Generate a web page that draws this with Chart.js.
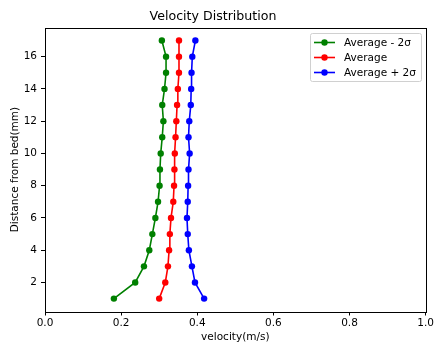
<!DOCTYPE html>
<html><head><meta charset="utf-8">
<script src="https://cdn.jsdelivr.net/npm/chart.js@4.4.0/dist/chart.umd.min.js"></script>
<style>html,body{margin:0;padding:0;background:#fff}#wrap{width:435px;height:342px}</style>
</head><body><div id="wrap"><canvas id="c" width="435" height="342"></canvas></div>
<script>
const heights = [1,2,3,4,5,6,7,8,9,10,11,12,13,14,15,16,17];
const avgMinus = [0.181,0.237,0.260,0.274,0.282,0.290,0.297,0.301,0.302,0.304,0.308,0.311,0.308,0.314,0.318,0.318,0.307];
const avg = [0.300,0.316,0.323,0.326,0.328,0.331,0.337,0.339,0.340,0.341,0.343,0.345,0.347,0.349,0.352,0.352,0.352];
const avgPlus = [0.418,0.394,0.386,0.378,0.375,0.373,0.375,0.376,0.377,0.380,0.377,0.379,0.383,0.384,0.385,0.387,0.395];
const xTicks = [0,0.2,0.4,0.6,0.8,1.0];
const yTicks = [2,4,6,8,10,12,14,16];
const seriesNames = ['Average - 2σ','Average','Average + 2σ'];
const seriesColors = ['#008000','#ff0000','#0000ff'];
const FONT = "'DejaVu Sans', sans-serif";

function pts(vals){ return vals.map((v,i)=>({x:v,y:heights[i]})); }
const datasets = [avgMinus,avg,avgPlus].map((vals,i)=>({
  label: seriesNames[i], data: pts(vals), borderColor: seriesColors[i], backgroundColor: seriesColors[i],
  borderWidth: 1.6, pointRadius: 3.2, pointBorderWidth: 0, pointHoverRadius: 3.2, showLine: true, tension: 0
}));

const framePlugin = {
  id: 'frame',
  afterDraw(chart){
    const {ctx, chartArea:a} = chart;
    ctx.save();
    ctx.strokeStyle = '#000'; ctx.lineWidth = 1;
    ctx.strokeRect(Math.round(a.left)+0.5, Math.round(a.top)+0.5, Math.round(a.right-a.left), Math.round(a.bottom-a.top));
    // legend
    const bx = 310.5, by = 33.5, bw = 111, bh = 48;
    ctx.fillStyle = 'rgba(255,255,255,0.8)';
    ctx.strokeStyle = '#d0d0d0';
    ctx.beginPath();
    if (ctx.roundRect) ctx.roundRect(bx,by,bw,bh,2); else ctx.rect(bx,by,bw,bh);
    ctx.fill(); ctx.stroke();
    ctx.font = '10.5px ' + FONT;
    ctx.textBaseline = 'middle';
    for (let i=0;i<3;i++){
      const yy = 42.5 + i*15;
      ctx.strokeStyle = seriesColors[i]; ctx.lineWidth = 1.6;
      ctx.beginPath(); ctx.moveTo(314, yy); ctx.lineTo(335, yy); ctx.stroke();
      ctx.fillStyle = seriesColors[i];
      ctx.beginPath(); ctx.arc(324.5, yy, 3.2, 0, Math.PI*2); ctx.fill();
      ctx.fillStyle = '#000';
      ctx.fillText(seriesNames[i], 344, yy + 0.5);
    }
    ctx.restore();
  }
};

new Chart(document.getElementById('c'), {
  type: 'scatter',
  data: { datasets },
  options: {
    responsive: false, animation: false,
    layout: { padding: { left: 0, right: 9, top: 0, bottom: 0 } },
    plugins: {
      legend: { display: false },
      tooltip: { enabled: false },
      title: { display: true, text: 'Velocity Distribution', color: '#000',
        font: { family: FONT, size: 12.6, weight: 'normal' }, padding: { top: 9, bottom: 3.5 } }
    },
    scales: {
      x: {
        type: 'linear', min: 0, max: 1,
        afterBuildTicks: s => { s.ticks = xTicks.map(v=>({value:v})); },
        afterFit: s => { s.height = 30.5; },
        grid: { display: true, drawOnChartArea: false, drawTicks: true, tickLength: 4, color: '#000' },
        border: { display: false },
        ticks: { color: '#000', font: { family: FONT, size: 10.5 }, padding: 1, maxRotation: 0,
          callback: v => v.toFixed(1) },
        title: { display: true, text: 'velocity(m/s)', color: '#000', font: { family: FONT, size: 10.5 }, padding: { top: 0, bottom: -2 } }
      },
      y: {
        type: 'linear', min: 0.2, max: 17.8,
        afterBuildTicks: s => { s.ticks = yTicks.map(v=>({value:v})); },
        afterFit: s => { s.width = 45; },
        grid: { display: true, drawOnChartArea: false, drawTicks: true, tickLength: 4, color: '#000' },
        border: { display: false },
        ticks: { color: '#000', font: { family: FONT, size: 10.5 }, padding: 4 },
        title: { display: true, text: 'Distance from bed(mm)', color: '#000', font: { family: FONT, size: 10.5 }, padding: { top: 9, bottom: 0 } }
      }
    }
  },
  plugins: [framePlugin]
});
</script></body></html>
